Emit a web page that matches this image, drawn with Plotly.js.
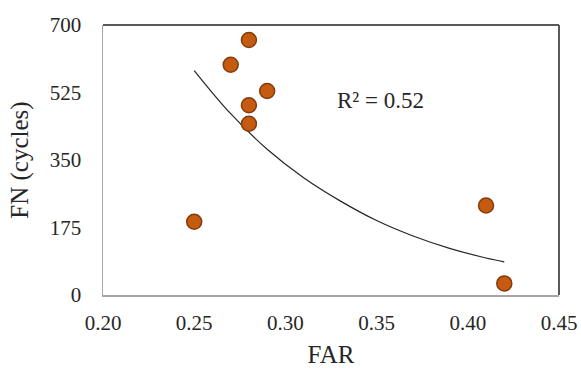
<!DOCTYPE html>
<html>
<head>
<meta charset="utf-8">
<script src="https://cdn.plot.ly/plotly-3.0.1.min.js"></script>
<style>html,body{margin:0;padding:0;background:#fff;}</style>
</head>
<body>
<div id="chart" style="width:581px;height:371px;"></div>
<script>
// Measured data points
var farValues = [0.25, 0.27, 0.28, 0.29, 0.28, 0.28, 0.41, 0.42];
var fnValues  = [190, 597, 661, 529, 492, 444, 232, 30];

// Trendline
var trendX = [0.25, 0.27, 0.29, 0.31, 0.33, 0.35, 0.37, 0.39, 0.41, 0.42];
var trendY = [582, 470, 378, 304, 244, 193, 153, 121, 96, 86];

var xTicks = [0.20, 0.25, 0.30, 0.35, 0.40, 0.45];
var xTickText = ['0.20', '0.25', '0.30', '0.35', '0.40', '0.45'];
var yTicks = [0, 175, 350, 525, 700];
var yTickText = ['0', '175', '350', '525', '700'];

var serif = 'Liberation Serif, Times New Roman, serif';

var traces = [
  {
    x: trendX, y: trendY, mode: 'lines', type: 'scatter',
    line: {color: '#262626', width: 1.2, shape: 'spline', smoothing: 1},
    hoverinfo: 'skip', showlegend: false
  },
  {
    x: farValues, y: fnValues, mode: 'markers', type: 'scatter',
    marker: {size: 15, color: '#C55A11', line: {color: '#843C0C', width: 1.5}},
    showlegend: false
  }
];

var layout = {
  width: 581, height: 371,
  margin: {l: 103, r: 22, t: 25, b: 76},
  paper_bgcolor: '#fff', plot_bgcolor: '#fff',
  font: {family: serif, color: '#262626'},
  xaxis: {
    range: [0.2, 0.45], tickvals: xTicks, ticktext: xTickText,
    showgrid: false, zeroline: false,
    showline: true, linecolor: '#a6a6a6', linewidth: 1.5,
    ticks: 'outside', ticklen: 8, tickcolor: 'rgba(0,0,0,0)',
    tickfont: {family: serif, size: 21, color: '#262626'},
    title: {text: 'FAR', font: {family: serif, size: 25, color: '#262626'}, standoff: 12}
  },
  yaxis: {
    range: [0, 700], tickvals: yTicks, ticktext: yTickText,
    showgrid: false, zeroline: false,
    showline: true, linecolor: '#a6a6a6', linewidth: 1.5,
    ticks: 'outside', ticklen: 16, tickcolor: 'rgba(0,0,0,0)',
    tickfont: {family: serif, size: 21, color: '#262626'},
    title: {text: 'FN (cycles)', font: {family: serif, size: 25, color: '#262626'}, standoff: 14}
  },
  shapes: [
    {type: 'line', xref: 'paper', yref: 'paper', x0: 0, x1: 1, y0: 1, y1: 1, line: {color: '#595959', width: 2}},
    {type: 'line', xref: 'paper', yref: 'paper', x0: 1, x1: 1, y0: 0, y1: 1, line: {color: '#595959', width: 2}}
  ],
  annotations: [
    {x: 0.327, y: 505, xref: 'x', yref: 'y', xanchor: 'left', yanchor: 'middle',
     text: 'R² = 0.52', showarrow: false, font: {family: serif, size: 23, color: '#262626'}}
  ]
};

Plotly.newPlot('chart', traces, layout, {displayModeBar: false, staticPlot: true});
</script>
</body>
</html>
